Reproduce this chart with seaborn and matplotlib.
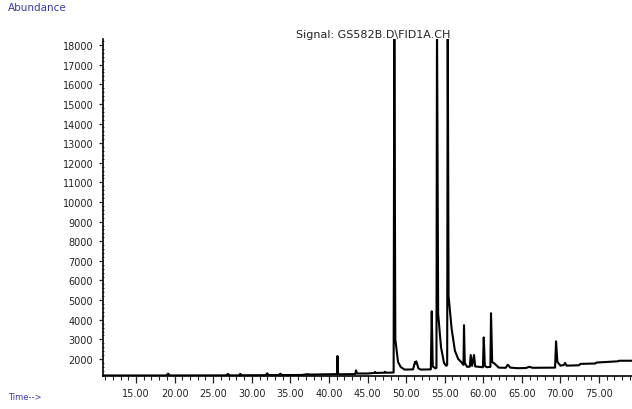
import numpy as np
import pandas as pd
import matplotlib
matplotlib.use("Agg")
import matplotlib.pyplot as plt
from matplotlib.ticker import MultipleLocator, FixedLocator
import seaborn as sns

# retention time (min) and detector abundance
TIME = [10.72, 18.9, 19.15, 19.4, 26.7, 26.9, 27.1, 28.3, 28.5, 28.7,
        31.8, 32.0, 32.2, 33.5, 33.7, 33.9, 36.5, 37.2, 37.6, 39.0,
        40.5, 41.07, 41.11, 41.16, 41.4, 43.4, 43.51, 43.65, 45.0, 45.9,
        45.97, 46.1, 47.2, 47.27, 47.4, 48.38, 48.47, 48.6, 48.95, 49.3,
        49.8, 50.9, 51.15, 51.22, 51.32, 51.6, 51.9, 53.2, 53.32, 53.45,
        53.8, 53.93, 54.0, 54.15, 54.52, 54.91, 55.2, 55.32, 55.39, 55.5,
        55.9, 56.32, 56.75, 57.17, 57.43, 57.5, 57.6, 57.9, 58.25, 58.37,
        58.55, 58.8, 58.95, 59.95, 60.06, 60.2, 60.45, 60.92, 61.0, 61.15,
        61.5, 62.0, 62.9, 63.17, 63.5, 64.5, 65.5, 65.97, 66.4, 69.3,
        69.43, 69.6, 70.0, 70.45, 70.6, 70.8, 72.4, 72.6, 74.5, 74.7,
        77.4, 77.6, 79.3]
ABUNDANCE = [1160, 1160, 1250, 1160, 1165, 1240, 1165, 1165, 1240, 1170,
             1175, 1270, 1180, 1180, 1250, 1180, 1185, 1225, 1205, 1215,
             1225, 1225, 2150, 1250, 1220, 1230, 1420, 1260, 1260, 1290,
             1340, 1290, 1300, 1350, 1300, 1310, 19500, 3000, 1850, 1590,
             1460, 1470, 1850, 1780, 1880, 1520, 1460, 1470, 4430, 1620,
             1520, 1550, 19500, 4300, 2600, 1800, 1650, 1700, 19500, 5200,
             3530, 2420, 2000, 1830, 1700, 3720, 1800, 1600, 1610, 2200,
             1650, 2200, 1620, 1580, 3100, 1650, 1580, 1600, 4330, 1850,
             1750, 1560, 1550, 1710, 1560, 1530, 1540, 1600, 1550, 1560,
             2900, 1850, 1660, 1700, 1800, 1660, 1680, 1750, 1770, 1820,
             1880, 1910, 1910]

X_MAJOR = [15, 20, 25, 30, 35, 40, 45, 50, 55, 60, 65, 70, 75]
Y_MAJOR = list(range(2000, 18001, 1000))

TITLE = "Signal: GS582B.D\\FID1A.CH"

sns.set_style("ticks")
plt.rcParams['font.family'] = ['DejaVu Sans']

df = pd.DataFrame({"time": TIME, "abundance": ABUNDANCE})

fig = plt.figure(figsize=(6.32, 4.10), dpi=100)
ax = fig.add_axes([103 / 632, 33 / 410, 1 - 103 / 632, (377 - 40) / 410])

sns.lineplot(data=df, x="time", y="abundance", sort=False, estimator=None,
             color="black", linewidth=1.5, ax=ax)

ax.set_xlim(10.72, 79.27)
ax.set_ylim(1133, 18306)
ax.set_xlabel("")
ax.set_ylabel("")

ax.xaxis.set_major_locator(FixedLocator(X_MAJOR))
ax.set_xticklabels([f"{v:.2f}" for v in X_MAJOR])
ax.xaxis.set_minor_locator(MultipleLocator(1))
ax.yaxis.set_major_locator(FixedLocator(Y_MAJOR))
ax.set_yticklabels([str(v) for v in Y_MAJOR])
ax.yaxis.set_minor_locator(MultipleLocator(200))

ax.tick_params(axis="x", which="major", direction="out", length=5, width=0.9,
               labelsize=7, pad=4, colors="#222222")
ax.tick_params(axis="x", which="minor", direction="out", length=3, width=0.8)
ax.tick_params(axis="y", which="major", direction="out", length=3, width=0.9,
               labelsize=7, pad=4, colors="#222222")
ax.tick_params(axis="y", which="minor", direction="inout", length=2, width=0.6)

sns.despine(ax=ax)
for s in ["left", "bottom"]:
    ax.spines[s].set_linewidth(1.2)
    ax.spines[s].set_color("black")

fig.text(373 / 632, 1 - 35 / 410, TITLE, ha="center", va="center",
         fontsize=8, color="#222222")
fig.text(8 / 632, 1 - 8 / 410, "Abundance", ha="left", va="center",
         fontsize=7.5, color="#3a3aa8")
fig.text(8 / 632, 1 - 398 / 410, "Time-->", ha="left", va="center",
         fontsize=6, color="#3a3aa8")

fig.savefig("out.png", dpi=100)
